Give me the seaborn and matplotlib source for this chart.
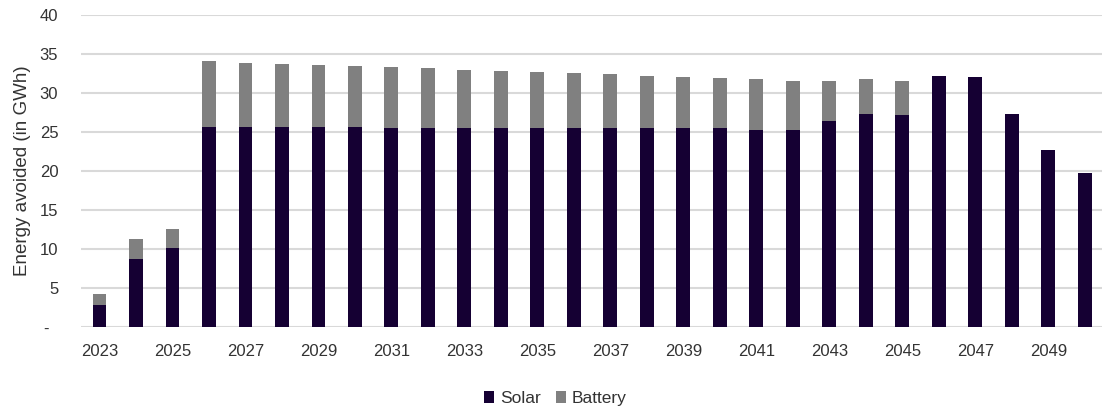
import pandas as pd
import matplotlib
matplotlib.use("Agg")
import matplotlib.pyplot as plt
import seaborn as sns

# values (GWh)
years = [str(y) for y in range(2023, 2051)]
solar = [2.9, 8.8, 10.2, 25.6, 25.6, 25.6, 25.6, 25.6, 25.5, 25.5,
         25.5, 25.5, 25.5, 25.5, 25.5, 25.5, 25.5, 25.5, 25.3, 25.3,
         26.4, 27.3, 27.2, 32.2, 32.1, 27.3, 22.7, 19.8]
total = [4.2, 11.3, 12.6, 34.1, 33.9, 33.8, 33.6, 33.5, 33.3, 33.2,
         33.0, 32.9, 32.7, 32.6, 32.4, 32.2, 32.1, 31.9, 31.8, 31.6,
         31.6, 31.8, 31.6, 32.2, 32.1, 27.3, 22.7, 19.8]
battery = [round(t - s, 2) for t, s in zip(total, solar)]

df = pd.DataFrame({"year": years, "Solar": solar, "Battery": battery})

sns.set_theme(style="white")
plt.rcParams["font.family"] = ["Liberation Sans", "DejaVu Sans"]

fig = plt.figure(figsize=(11.03, 4.09), dpi=100)
ax = fig.add_axes([0.073, 0.2, 0.926, 0.763])

# stacked bars: solar at the bottom, battery on top
sns.barplot(data=df, x="year", y="Solar", color="#150033", width=0.38,
            saturation=1, label="Solar", linewidth=0, edgecolor="none", ax=ax)
sns.barplot(data=df, x="year", y="Battery", color="#808080", width=0.38,
            saturation=1, label="Battery", bottom=df["Solar"],
            linewidth=0, edgecolor="none", ax=ax)

ax.set_ylim(0, 40)
ax.set_xlim(-0.52, 27.47)
ax.set_yticks(range(0, 41, 5))
ax.set_yticklabels(["-  "] + [str(v) for v in range(5, 41, 5)])
ax.set_xticks(range(0, 28, 2))
ax.set_xticklabels(years[::2])
ax.yaxis.grid(True, color="#d9d9d9", linewidth=1.5)
ax.set_axisbelow(True)
for s in ax.spines.values():
    s.set_visible(False)
ax.tick_params(axis="both", length=0, labelsize=12, colors="#333333")
ax.tick_params(axis="x", pad=12)
ax.tick_params(axis="y", pad=16)
ax.set_xlabel("")
ax.set_ylabel("Energy avoided (in GWh)", fontsize=13.5, color="#333333",
              labelpad=6)

ax.legend(loc="center", bbox_to_anchor=(0.465, -0.228), ncol=2,
          frameon=False, fontsize=12.5, handlelength=0.55, handleheight=0.7,
          handletextpad=0.35, columnspacing=0.9, labelcolor="#333333")

fig.savefig("out.png", dpi=100)
